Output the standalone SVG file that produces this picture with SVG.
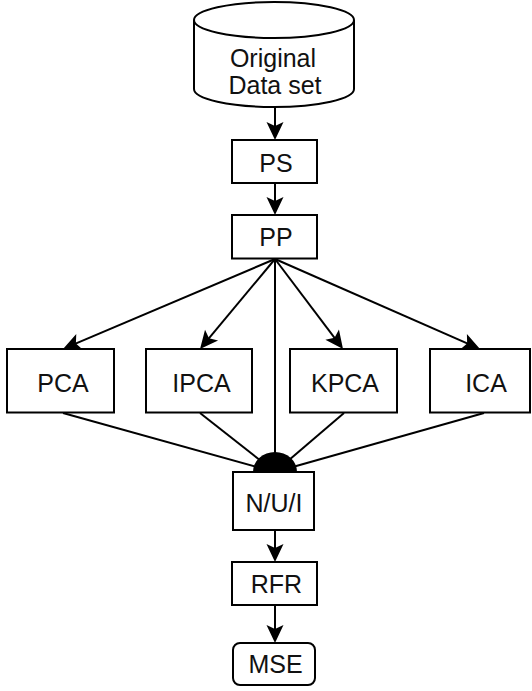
<svg xmlns="http://www.w3.org/2000/svg" width="532" height="691" viewBox="0 0 532 691">
  <style>
    .box { fill: #ffffff; stroke: #000000; stroke-width: 2; }
    .lbl { font-family: "Liberation Sans", Arial, sans-serif; font-size: 25px; fill: #111111; text-anchor: middle; }
    .edge { fill: none; stroke: #000000; stroke-width: 2; }
    .arr { marker-end: url(#ah); }
  </style>
  <defs>
    <marker id="ah" markerUnits="userSpaceOnUse" viewBox="-20 -10 22 20" markerWidth="22" markerHeight="20" refX="-4" refY="0" orient="auto">
      <path d="M0,0 L-18,-8.5 L-14,0 L-18,8.5 Z" fill="#000000"/>
    </marker>
  </defs>
  <rect width="532" height="691" fill="#ffffff"/>

  <g id="connectors">
    <line class="edge arr" x1="275" y1="107" x2="275" y2="136"/>
    <line class="edge arr" x1="275" y1="183" x2="275" y2="211"/>
    <line class="edge arr" x1="275" y1="259" x2="66.7" y2="347.4"/>
    <line class="edge arr" x1="275" y1="259" x2="202.6" y2="345.9"/>
    <line class="edge arr" x1="275" y1="259" x2="340.6" y2="345.8"/>
    <line class="edge arr" x1="275" y1="259" x2="476.3" y2="347.4"/>
    <line class="edge" x1="275" y1="259" x2="275" y2="472"/>
    <line class="edge" x1="63" y1="413" x2="275" y2="472"/>
    <line class="edge" x1="200" y1="413" x2="275" y2="472"/>
    <line class="edge" x1="344" y1="413" x2="275" y2="472"/>
    <line class="edge" x1="484" y1="413" x2="275" y2="472"/>
    <path d="M253,472 A22,20 0 0 1 297,472 Z" fill="#000000"/>
    <line class="edge arr" x1="275" y1="530" x2="275" y2="558"/>
    <line class="edge arr" x1="275" y1="605" x2="275" y2="639"/>
  </g>

  <g id="original">
    <path class="box" d="M194,20 L194,89 A80,18 0 0 0 354,89 L354,20 A80,18 0 0 0 194,20 Z"/>
    <path class="edge" d="M194,20 A80,18 0 0 0 354,20"/>
    <text class="lbl" x="273" y="66.5">Original</text>
    <text class="lbl" x="275" y="94">Data set</text>
  </g>

  <g id="ps">
    <rect class="box" x="232" y="140" width="85" height="43"/>
    <text class="lbl" x="276" y="171.5">PS</text>
  </g>

  <g id="pp">
    <rect class="box" x="232" y="215" width="85" height="43.5"/>
    <text class="lbl" x="276" y="245.5">PP</text>
  </g>

  <g id="pca">
    <rect class="box" x="7" y="349" width="107" height="63.5"/>
    <text class="lbl" x="63" y="391.5">PCA</text>
  </g>

  <g id="ipca">
    <rect class="box" x="146" y="349" width="106" height="63.5"/>
    <text class="lbl" x="201.5" y="391.5">IPCA</text>
  </g>

  <g id="kpca">
    <rect class="box" x="290" y="349" width="107" height="63.5"/>
    <text class="lbl" x="345" y="391.5">KPCA</text>
  </g>

  <g id="ica">
    <rect class="box" x="430" y="349" width="100" height="63.5"/>
    <text class="lbl" x="486" y="391.5">ICA</text>
  </g>

  <g id="nui">
    <rect class="box" x="233" y="472" width="81" height="58"/>
    <text class="lbl" x="274" y="511.5">N/U/I</text>
  </g>

  <g id="rfr">
    <rect class="box" x="232" y="562" width="85" height="43"/>
    <text class="lbl" x="276.5" y="592.5">RFR</text>
  </g>

  <g id="mse">
    <rect class="box" x="233" y="643" width="82" height="42" rx="7" ry="7"/>
    <text class="lbl" x="275.5" y="672.5">MSE</text>
  </g>
</svg>
